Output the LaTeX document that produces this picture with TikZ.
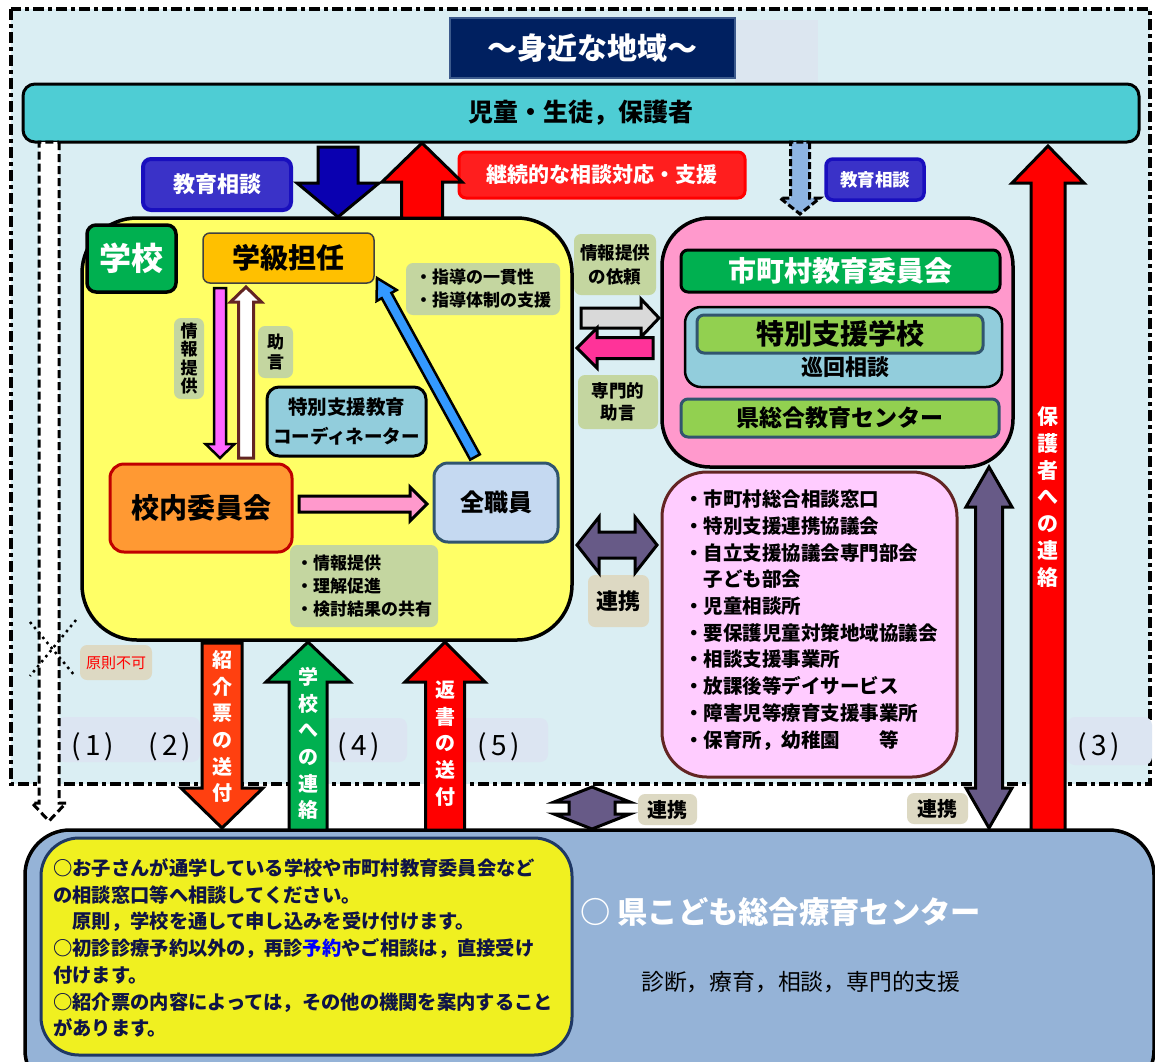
\documentclass[tikz,border=0pt]{standalone}
\usepackage{fontspec}
\setmainfont{Noto Sans CJK JP}
\usetikzlibrary{calc}
\definecolor{bgA}{RGB}{218,238,243}
\definecolor{navyT}{RGB}{0,32,96}
\definecolor{navyB}{RGB}{60,90,140}
\definecolor{patchC}{RGB}{220,230,240}
\definecolor{tealC}{RGB}{78,205,212}
\definecolor{arrBlue}{RGB}{10,0,176}
\definecolor{kyoikuF}{RGB}{58,50,200}
\definecolor{kyoikuD}{RGB}{25,15,190}
\definecolor{redBox}{RGB}{255,30,30}
\definecolor{dashBlue}{RGB}{141,180,226}
\definecolor{yelSchool}{RGB}{255,255,102}
\definecolor{greenC}{RGB}{0,176,80}
\definecolor{goldC}{RGB}{255,192,0}
\definecolor{pinkArr}{RGB}{255,102,255}
\definecolor{brownC}{RGB}{99,37,35}
\definecolor{sageC}{RGB}{196,214,160}
\definecolor{coordC}{RGB}{146,205,220}
\definecolor{orangeC}{RGB}{255,153,51}
\definecolor{darkRed}{RGB}{192,0,0}
\definecolor{lpinkArr}{RGB}{255,153,204}
\definecolor{staffC}{RGB}{197,217,241}
\definecolor{slateC}{RGB}{49,85,110}
\definecolor{diagBlue}{RGB}{51,153,255}
\definecolor{pinkBox}{RGB}{255,153,204}
\definecolor{limeC}{RGB}{146,208,80}
\definecolor{grayArr}{RGB}{217,217,217}
\definecolor{hotPink}{RGB}{255,51,153}
\definecolor{listPink}{RGB}{255,204,255}
\definecolor{purpC}{RGB}{103,90,135}
\definecolor{beigeC}{RGB}{221,217,195}
\definecolor{numBox}{RGB}{220,229,242}
\definecolor{orangeRed}{RGB}{255,64,16}
\definecolor{centerBlue}{RGB}{149,179,215}
\definecolor{yelNote}{RGB}{240,240,32}
\definecolor{noteBorder}{RGB}{31,56,100}
\definecolor{noteText}{RGB}{15,20,70}
\newcommand\fsz[2]{\fontsize{#1}{#2}\selectfont}
\newcommand\mkbox[7]{%
 \pgfmathsetmacro\bxw{#5-(#3)}%
 \pgfmathsetmacro\bxh{#6-(#4)}%
 \pgfmathsetmacro\bxcx{(#3+#5)/2}%
 \pgfmathsetmacro\bxcy{(#4+#6)/2}%
 \node[inner sep=0pt, outer sep=0pt, minimum width=\bxw pt, minimum height=\bxh pt, #1] (#2) at (\bxcx,\bxcy) {#7};}
% #1 style, #2 tail, #3 tip, #4 shaft half, #5 head half, #6 head length
\newcommand\blkarrow[6]{%
 \coordinate (bxN) at ($#3!#6!#2$);
 \filldraw[#1] ($#2!#4!90:#3$) -- ($(bxN)!#4!90:#3$) -- ($(bxN)!#5!90:#3$) -- #3 -- ($(bxN)!#5!-90:#3$) -- ($(bxN)!#4!-90:#3$) -- ($#2!#4!-90:#3$) -- cycle;}
\newcommand\dblkarrow[6]{%
 \coordinate (bxP) at ($#2!#6!#3$);
 \coordinate (bxQ) at ($#3!#6!#2$);
 \filldraw[#1] #2 -- ($(bxP)!#5!90:#3$) -- ($(bxP)!#4!90:#3$) -- ($(bxQ)!#4!90:#3$) -- ($(bxQ)!#5!90:#3$) -- #3 -- ($(bxQ)!#5!-90:#3$) -- ($(bxQ)!#4!-90:#3$) -- ($(bxP)!#4!-90:#3$) -- ($(bxP)!#5!-90:#3$) -- cycle;}
\tikzset{
 bk/.style={draw=black, line width=3pt},
 lbl/.style={fill=sageC, rounded corners=7pt},
 beig/.style={fill=beigeC, rounded corners=7pt},
 arr/.style={draw=black, line width=3pt, line join=miter},
 vtxt/.style={inner sep=0pt, align=center, text=white, font=\fsz{20}{26.7}\bfseries},
 numlbl/.style={inner sep=0pt, font=\fsz{28}{32}},
}
\begin{document}
\begin{tikzpicture}[x=1pt,y=-1pt]
\useasboundingbox (0,0) rectangle (1155,1061);
\fill[white] (0,0) rectangle (1155,1061);
% outer region
\fill[bgA] (11,9) rectangle (1150,784);
\fill[patchC] (735,20) rectangle (818,84);
\draw[line width=3.5pt, dash pattern=on 11pt off 4pt on 4pt off 4pt] (11,9) rectangle (1150,784);
% title and top bar
\mkbox{fill=navyT, draw=navyB, line width=2.5pt, text=white, font=\fsz{30}{34}\bfseries}{title}{450}{18}{735}{78}{～身近な地域～}
\mkbox{fill=tealC, bk, rounded corners=12pt, font=\fsz{25}{30}\bfseries}{family}{23}{84}{1139}{142}{児童・生徒，保護者}
% bottom center
\begin{scope}
\clip (0,0) rectangle (1155,1061);
\mkbox{fill=centerBlue, bk, line width=3.5pt, rounded corners=45pt}{center}{25}{830}{1154}{1095}{}
\end{scope}
\mkbox{fill=yelNote, draw=noteBorder, line width=3pt, rounded corners=38pt}{note}{41}{838}{572}{1055}{}
\node[anchor=west, align=left, text=noteText, font=\fsz{19.3}{26.7}\bfseries, inner sep=0pt] (notetext) at (53,948) {○お子さんが通学している学校や市町村教育委員会など\\の相談窓口等へ相談してください。\\　原則，学校を通して申し込みを受け付けます。\\○初診診療予約以外の，再診{\color{blue}予約}やご相談は，直接受け\\付けます。\\○紹介票の内容によっては，その他の機関を案内すること\\があります。};
\node[anchor=west, text=white, font=\fsz{30.3}{34}\bfseries, inner sep=0pt] (ctitle) at (580,912) {○ 県こども総合療育センター};
\node[anchor=west, font=\fsz{22.8}{26}, inner sep=0pt] (cdesc) at (641,982) {診断，療育，相談，専門的支援};
% number boxes
\mkbox{fill=numBox, rounded corners=8pt}{nb12}{57}{717}{200}{762}{}
\mkbox{fill=numBox, rounded corners=8pt}{nb4}{326}{718}{407}{762}{}
\mkbox{fill=numBox, rounded corners=8pt}{nb5}{459}{718}{548}{762}{}
\mkbox{fill=numBox, rounded corners=8pt}{nb3}{1067}{717}{1152}{765}{}
\node[numlbl] (n1) at (93,747) {(\hspace{4pt}1\hspace{4pt})};
\node[numlbl] (n2) at (170,747) {(\hspace{4pt}2\hspace{4pt})};
\node[numlbl] (n4) at (359,747) {(\hspace{4pt}4\hspace{4pt})};
\node[numlbl] (n5) at (499,747) {(\hspace{4pt}5\hspace{4pt})};
\node[numlbl] (n3) at (1099,747) {(\hspace{4pt}3\hspace{4pt})};
\mkbox{beig, text=red, font=\fsz{15}{18}}{fuka}{80}{645}{152}{680}{原則不可}
% school
\mkbox{fill=yelSchool, bk, line width=3.5pt, rounded corners=55pt}{school}{82}{218}{572}{640}{}
\mkbox{fill=greenC, bk, line width=3.5pt, rounded corners=9pt, text=white, font=\fsz{32}{36}\bfseries}{gakko}{87}{225}{176}{292}{学校}
\mkbox{fill=goldC, draw=black!75, line width=1.5pt, rounded corners=7pt, font=\fsz{28}{32}\bfseries}{tannin}{203}{233}{374}{283}{学級担任}
\mkbox{lbl, align=center, font=\fsz{17}{18.4}\bfseries}{lj1}{174}{318}{204}{399}{情\\報\\提\\供}
\mkbox{lbl, align=center, font=\fsz{17}{20}\bfseries}{lj2}{258}{326}{293}{378}{助\\言}
\mkbox{fill=coordC, bk, rounded corners=12pt, align=center, font=\fsz{19.5}{29}\bfseries}{coord}{267}{387}{426}{456}{特別支援教育\\{\fsz{18.5}{29}コーディネーター}}
\mkbox{fill=orangeC, draw=darkRed, line width=3pt, rounded corners=14pt, font=\fsz{28}{32}\bfseries}{iinkai}{110}{464}{292}{552}{校内委員会}
\mkbox{fill=staffC, draw=slateC, line width=3pt, rounded corners=14pt, font=\fsz{24}{28}\bfseries}{staff}{434}{463}{558}{542}{全職員}
\mkbox{lbl, align=left, font=\fsz{17}{23}\bfseries}{lj3}{406}{263}{560}{315}{・指導の一貫性\\・指導体制の支援}
\mkbox{lbl, align=left, font=\fsz{17}{23}\bfseries}{lj4}{290}{545}{438}{627}{・情報提供\\・理解促進\\・検討結果の共有}
% board
\mkbox{fill=pinkBox, bk, line width=3.5pt, rounded corners=48pt}{board}{662}{218}{1013}{467}{}
\mkbox{fill=greenC, bk, rounded corners=7pt, text=white, font=\fsz{28}{32}\bfseries}{iinkai2}{681}{250}{1000}{292}{市町村教育委員会}
\mkbox{fill=coordC, draw=black, line width=2.5pt, rounded corners=16pt}{junkai}{685}{307}{1002}{387}{}
\mkbox{fill=limeC, draw=slateC, line width=3pt, rounded corners=7pt, font=\fsz{28}{32}\bfseries}{tokushi}{697}{315}{983}{353}{特別支援学校}
\node[inner sep=0pt, font=\fsz{22}{26}\bfseries] (junkait) at (845,367) {巡回相談};
\mkbox{fill=limeC, draw=slateC, line width=3pt, rounded corners=7pt, font=\fsz{23}{27}\bfseries}{kensogo}{681}{399}{999}{437}{県総合教育センター}
\mkbox{lbl, align=center, font=\fsz{17.5}{24}\bfseries}{lj5}{574}{234}{656}{295}{情報提供\\の依頼}
\mkbox{lbl, align=center, font=\fsz{17.5}{22}\bfseries}{lj6}{578}{375}{658}{429}{専門的\\助言}
\mkbox{fill=listPink, draw=brownC, line width=3pt, rounded corners=45pt}{orgs}{662}{472}{957}{777}{}
\node[anchor=west, align=left, font=\fsz{19.5}{26.7}\bfseries, inner sep=0pt] (orglist) at (684,620) {・市町村総合相談窓口\\・特別支援連携協議会\\・自立支援協議会専門部会\\　子ども部会\\・児童相談所\\・要保護児童対策地域協議会\\・相談支援事業所\\・放課後等デイサービス\\・障害児等療育支援事業所\\・保育所，幼稚園　　等};
\mkbox{beig, font=\fsz{22}{26}\bfseries}{renkei1}{588}{575}{649}{627}{連携}
\mkbox{beig, font=\fsz{20}{24}\bfseries}{renkei2}{907}{793}{968}{824}{連携}
\mkbox{beig, font=\fsz{20}{24}\bfseries}{renkei3}{638}{794}{697}{825}{連携}
% top labels
\mkbox{fill=kyoikuF, draw=kyoikuD, line width=4pt, rounded corners=8pt, text=white, font=\fsz{22}{26}\bfseries}{kyo1}{143}{159}{291}{210}{教育相談}
\mkbox{fill=redBox, draw=red, line width=3pt, rounded corners=7pt, text=white, font=\fsz{21}{25}\bfseries}{keizoku}{459}{152}{745}{198}{継続的な相談対応・支援}
\mkbox{fill=kyoikuF, draw=kyoikuD, line width=3.5pt, rounded corners=7pt, text=white, font=\fsz{17.5}{21}\bfseries}{kyo2}{826}{159}{924}{200}{教育相談}
% arrow coordinates
\coordinate (bdS) at (338,147); \coordinate (bdE) at (338,217);
\coordinate (ruS) at (422,218); \coordinate (ruE) at (422,143);
\coordinate (dsS) at (800,142); \coordinate (dsE) at (800,214);
\coordinate (rrS) at (1048,830); \coordinate (rrE) at (1048,146);
\coordinate (pdS) at (220,288); \coordinate (pdE) at (220,458);
\coordinate (wuS) at (246,458); \coordinate (wuE) at (246,287);
\coordinate (prS) at (299,504); \coordinate (prE) at (427,504);
\coordinate (dgS) at (475,457); \coordinate (dgE) at (377,278);
\coordinate (gaS) at (581,318); \coordinate (gaE) at (659,318);
\coordinate (paS) at (653,348); \coordinate (paE) at (577,348);
\coordinate (phA) at (577,545); \coordinate (phB) at (657,545);
\coordinate (pvA) at (989,467); \coordinate (pvB) at (989,828);
\coordinate (hxA) at (592,787); \coordinate (hxB) at (592,829);
\coordinate (shS) at (222,643); \coordinate (shE) at (222,828);
\coordinate (glS) at (308,830); \coordinate (glE) at (308,642);
\coordinate (hsS) at (445,830); \coordinate (hsE) at (445,642);
\coordinate (hoS) at (49,142); \coordinate (hoE) at (49,821);
% arrows
\blkarrow{arr, fill=arrBlue}{(bdS)}{(bdE)}{20pt}{41pt}{34pt}
\blkarrow{arr, fill=red}{(ruS)}{(ruE)}{20.5pt}{40pt}{39pt}
\blkarrow{draw=black, line width=3pt, dash pattern=on 7pt off 3pt, fill=dashBlue}{(dsS)}{(dsE)}{9.5pt}{20pt}{16pt}
\blkarrow{arr, fill=red}{(rrS)}{(rrE)}{17pt}{36pt}{37pt}
\blkarrow{arr, line width=2.5pt, fill=pinkArr}{(pdS)}{(pdE)}{6pt}{14.5pt}{14pt}
\blkarrow{arr, draw=brownC, fill=white}{(wuS)}{(wuE)}{7.5pt}{15.5pt}{15pt}
\blkarrow{arr, fill=lpinkArr}{(prS)}{(prE)}{8pt}{17pt}{17pt}
\blkarrow{arr, line width=2.5pt, fill=diagBlue}{(dgS)}{(dgE)}{5.5pt}{11.5pt}{20pt}
\blkarrow{arr, fill=grayArr}{(gaS)}{(gaE)}{10pt}{19pt}{18pt}
\blkarrow{arr, fill=hotPink}{(paS)}{(paE)}{10.5pt}{20pt}{20pt}
\dblkarrow{arr, fill=purpC}{(phA)}{(phB)}{13pt}{28pt}{22pt}
\dblkarrow{arr, fill=purpC}{(pvA)}{(pvB)}{13.5pt}{23pt}{40pt}
\dblkarrow{arr, fill=purpC}{(hxA)}{(hxB)}{23pt}{38pt}{15pt}
\blkarrow{arr, fill=orangeRed}{(shS)}{(shE)}{20pt}{41pt}{40pt}
\blkarrow{arr, fill=greenC}{(glS)}{(glE)}{19pt}{42pt}{40pt}
\blkarrow{arr, fill=red}{(hsS)}{(hsE)}{19.5pt}{40pt}{40pt}
\blkarrow{draw=black, line width=3pt, dash pattern=on 8pt off 4pt, fill=white}{(hoS)}{(hoE)}{10pt}{17pt}{18pt}
% dotted cross
\coordinate (xa1) at (30,622); \coordinate (xa2) at (75,676);
\coordinate (xb1) at (76,620); \coordinate (xb2) at (30,676);
\draw[line width=2.5pt, dash pattern=on 2.5pt off 4pt] (xa1) -- (xa2);
\draw[line width=2.5pt, dash pattern=on 2.5pt off 4pt] (xb1) -- (xb2);
% vertical arrow texts
\node[vtxt, font=\fsz{21}{26.7}\bfseries] (t3) at (1048,497) {保\\護\\者\\へ\\の\\連\\絡};
\node[vtxt] (t2) at (222,726.5) {紹\\介\\票\\の\\送\\付};
\node[vtxt] (t4) at (308,743.5) {学\\校\\へ\\の\\連\\絡};
\node[vtxt] (t5) at (445,743.5) {返\\書\\の\\送\\付};
\end{tikzpicture}
\end{document}
